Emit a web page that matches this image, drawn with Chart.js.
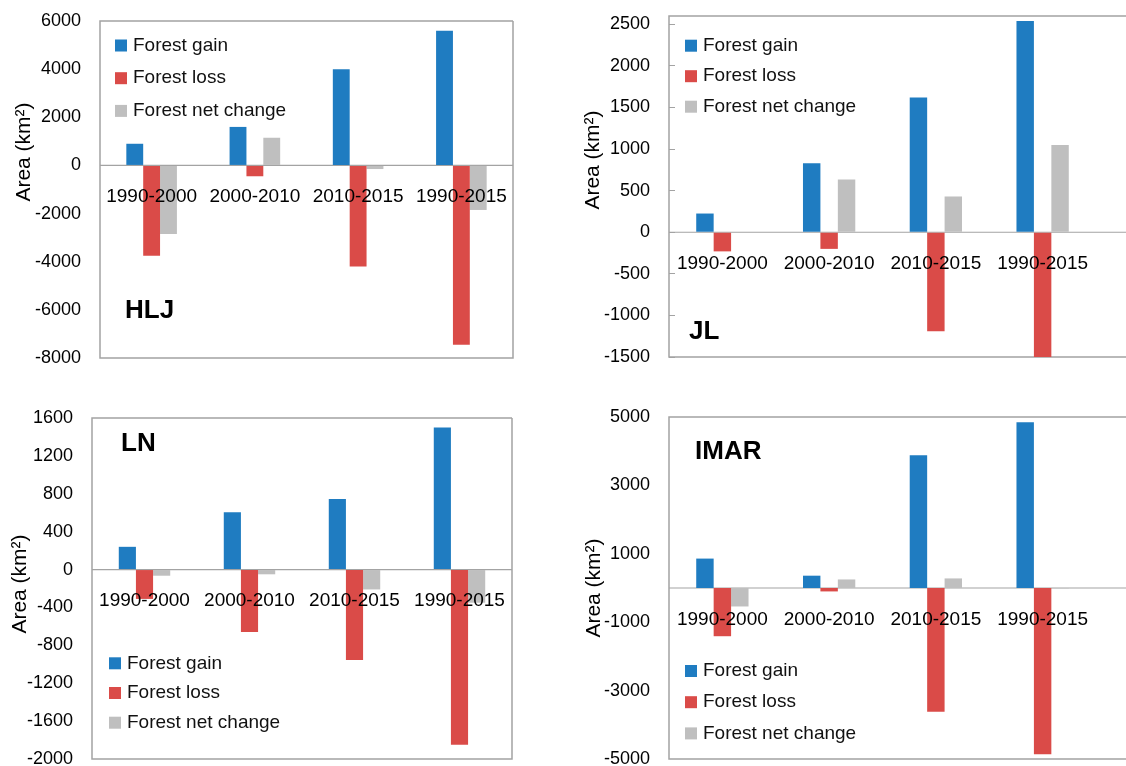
<!DOCTYPE html>
<html>
<head>
<meta charset="utf-8">
<title>Forest change by province</title>
<script src="https://cdn.jsdelivr.net/npm/chart.js@4.4.0/dist/chart.umd.min.js"></script>
<style>
  body { margin: 0; background: #fff; width: 1126px; height: 766px; overflow: hidden; position: relative; }
  .panel { position: absolute; width: 563px; height: 383px; }
</style>
</head>
<body>
<div class="panel" style="left:0;top:0"><canvas id="hlj"></canvas></div>
<div class="panel" style="left:563px;top:0"><canvas id="jl"></canvas></div>
<div class="panel" style="left:0;top:383px"><canvas id="ln"></canvas></div>
<div class="panel" style="left:563px;top:383px"><canvas id="imar"></canvas></div>
<script>
const periods = ['1990-2000', '2000-2010', '2010-2015', '1990-2015'];
const seriesNames = ['Forest gain', 'Forest loss', 'Forest net change'];
const seriesColors = ['#1f7cc1', '#da4b48', '#bfbfbf'];

// HLJ
const hljGain = [900, 1600, 4000, 5600];
const hljLoss = [-3750, -450, -4200, -7450];
const hljNet = [-2850, 1150, -150, -1850];
const hljTicks = [-8000, -6000, -4000, -2000, 0, 2000, 4000, 6000];

// JL
const jlGain = [225, 830, 1620, 2540];
const jlLoss = [-230, -200, -1190, -1500];
const jlNet = [-5, 635, 430, 1050];
const jlTicks = [-1500, -1000, -500, 0, 500, 1000, 1500, 2000, 2500];

// LN
const lnGain = [240, 605, 745, 1500];
const lnLoss = [-310, -660, -955, -1850];
const lnNet = [-65, -50, -210, -350];
const lnTicks = [-2000, -1600, -1200, -800, -400, 0, 400, 800, 1200, 1600];

// IMAR
const imarGain = [860, 360, 3880, 4850];
const imarLoss = [-1410, -100, -3620, -4860];
const imarNet = [-540, 250, 280, -10];
const imarTicks = [-5000, -3000, -1000, 1000, 3000, 5000];

const FONT = 'Arial, "Liberation Sans", sans-serif';
Chart.defaults.font.family = FONT;
Chart.defaults.color = '#000';

// frame, zero line, legend, panel tag and axis title
const panelDecor = {
  id: 'panelDecor',
  beforeDatasetsDraw(chart, args, opts) {
    const { ctx, chartArea: a } = chart;
    const right = opts.openRight ? chart.width : a.right;
    ctx.save();
    ctx.strokeStyle = '#a3a3a3';
    ctx.lineWidth = 1.5;
    ctx.beginPath();
    ctx.moveTo(right, a.top);
    ctx.lineTo(a.left, a.top);
    ctx.lineTo(a.left, a.bottom);
    ctx.lineTo(right, a.bottom);
    if (!opts.openRight) ctx.lineTo(right, a.top);
    ctx.stroke();
    const y0 = chart.scales.y.getPixelForValue(0);
    ctx.lineWidth = 1.2;
    ctx.beginPath();
    ctx.moveTo(a.left, y0);
    ctx.lineTo(right, y0);
    ctx.stroke();
    ctx.restore();
  },
  afterDraw(chart, args, opts) {
    const ctx = chart.ctx;
    ctx.save();
    // legend
    const lg = opts.legend;
    ctx.font = '19px ' + FONT;
    ctx.textBaseline = 'middle';
    ctx.textAlign = 'left';
    chart.data.datasets.forEach((ds, i) => {
      const cy = lg.y + i * lg.gap;
      ctx.fillStyle = ds.backgroundColor;
      ctx.fillRect(lg.x, cy - 6, 12, 12);
      ctx.fillStyle = '#111';
      ctx.fillText(ds.label, lg.x + 18, cy);
    });
    // panel tag
    ctx.font = 'bold 26px ' + FONT;
    ctx.fillStyle = '#000';
    ctx.fillText(opts.tag.text, opts.tag.x, opts.tag.y);
    // y axis title
    ctx.translate(opts.title.x, opts.title.y);
    ctx.rotate(-Math.PI / 2);
    ctx.textAlign = 'center';
    ctx.font = '21px ' + FONT;
    ctx.fillText('Area (km\u00b2)', 0, 0);
    ctx.restore();
  }
};

function makeChart(id, gain, loss, net, ticks, range, layout, decor) {
  const values = [gain, loss, net];
  return new Chart(document.getElementById(id), {
    type: 'bar',
    data: {
      labels: periods,
      datasets: values.map((v, i) => ({
        label: seriesNames[i],
        data: v,
        backgroundColor: seriesColors[i],
        barPercentage: 1,
        categoryPercentage: 0.49
      }))
    },
    options: {
      responsive: true,
      maintainAspectRatio: false,
      animation: false,
      devicePixelRatio: 1,
      layout: { padding: layout.padding },
      plugins: {
        legend: { display: false },
        tooltip: { enabled: false },
        panelDecor: decor
      },
      scales: {
        x: {
          position: { y: 0 },
          offset: true,
          grid: { display: false, drawTicks: false },
          border: { display: false },
          ticks: { z: 1, padding: 20, font: { size: 19 }, maxRotation: 0, autoSkip: false }
        },
        y: {
          min: range[0],
          max: range[1],
          afterBuildTicks: axis => { axis.ticks = ticks.map(v => ({ value: v })); },
          afterFit: axis => {
            axis.width = layout.axisWidth;
            axis.paddingTop = 0;
            axis.paddingBottom = 0;
          },
          grid: {
            drawOnChartArea: false,
            drawTicks: !!layout.tickMarks,
            tickLength: -6,
            color: '#a3a3a3'
          },
          border: { display: false },
          ticks: {
            padding: layout.tickMarks ? 25 : 19,
            font: { size: 18 },
            callback: v => String(v)
          }
        }
      }
    },
    plugins: [panelDecor]
  });
}

makeChart('hlj', hljGain, hljLoss, hljNet, hljTicks, [-8000, 6000],
  { axisWidth: 100, padding: { top: 21, right: 50, bottom: 25, left: 0 } },
  { legend: { x: 115, y: 45.5, gap: 32.7 }, tag: { text: 'HLJ', x: 125, y: 311 }, title: { x: 24, y: 152 } });

makeChart('jl', jlGain, jlLoss, jlNet, jlTicks, [-1500, 2600],
  { axisWidth: 106, padding: { top: 16, right: 30, bottom: 26, left: 0 }, tickMarks: true },
  { openRight: true, legend: { x: 122, y: 45.7, gap: 30.5 }, tag: { text: 'JL', x: 126, y: 332 }, title: { x: 30, y: 160 } });

makeChart('ln', lnGain, lnLoss, lnNet, lnTicks, [-2000, 1600],
  { axisWidth: 92, padding: { top: 35, right: 51, bottom: 7, left: 0 } },
  { legend: { x: 109, y: 280.3, gap: 29.7 }, tag: { text: 'LN', x: 121, y: 61 }, title: { x: 20, y: 201 } });

makeChart('imar', imarGain, imarLoss, imarNet, imarTicks, [-5000, 5000],
  { axisWidth: 106, padding: { top: 34, right: 30, bottom: 7, left: 0 } },
  { openRight: true, legend: { x: 122, y: 288, gap: 31.2 }, tag: { text: 'IMAR', x: 132, y: 69 }, title: { x: 31, y: 205 } });
</script>
</body>
</html>
